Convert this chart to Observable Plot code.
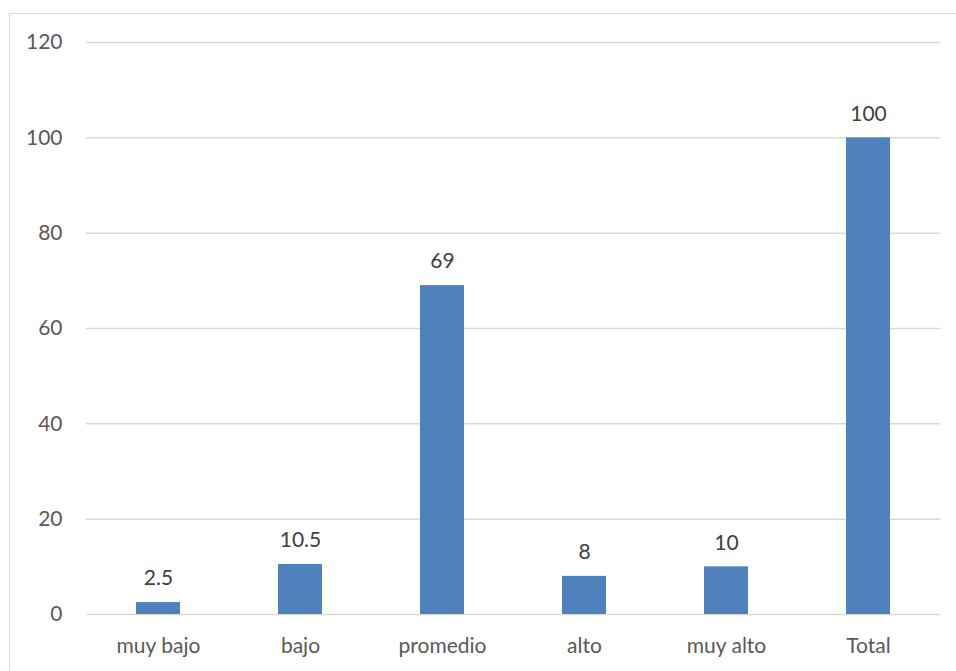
<!DOCTYPE html>
<html>
<head>
<meta charset="utf-8">
<script src="https://cdn.jsdelivr.net/npm/d3@7"></script>
<script src="https://cdn.jsdelivr.net/npm/@observablehq/plot@0.6"></script>
<style>
  html, body { margin: 0; padding: 0; background: #fff; }
  #wrap { position: relative; width: 956px; height: 671px; overflow: hidden; }
  #frame { position: absolute; left: 9px; top: 13px; width: 980px; height: 700px;
           border: 1.5px solid #D9D9D9; box-sizing: border-box; }
  #chart { position: absolute; left: 0; top: 0; }
</style>
</head>
<body>
<div id="wrap"><div id="frame"></div><div id="chart"></div></div>
<script>
const categories = ["muy bajo", "bajo", "promedio", "alto", "muy alto", "Total"];
const values = [2.5, 10.5, 69, 8, 10, 100];
const yTicks = [0, 20, 40, 60, 80, 100, 120];

const data = categories.map((c, i) => ({category: c, value: values[i]}));

const chart = Plot.plot({
  width: 956,
  height: 671,
  marginLeft: 86,
  marginRight: 16,
  marginTop: 42,
  marginBottom: 57,
  style: {fontFamily: "Lato, 'Open Sans', sans-serif", fontSize: "21px", color: "#595959", background: "transparent"},
  x: {domain: categories, paddingInner: 0.69, paddingOuter: 0.345, label: null},
  y: {domain: [0, 120], ticks: yTicks, label: null},
  marks: [
    Plot.gridY(yTicks, {stroke: "#D9D9D9", strokeOpacity: 1, strokeWidth: 1.5}),
    Plot.axisY({ticks: yTicks, tickSize: 0, tickPadding: 24, fontSize: 21, label: null}),
    Plot.axisX({tickSize: 0, tickPadding: 24, fontSize: 21, label: null}),
    Plot.barY(data, {x: "category", y: "value", fill: "#4F81BD"}),
    Plot.text(data, {x: "category", y: "value", text: d => String(d.value), dy: -24, fontSize: 21, fill: "#404040"})
  ]
});
document.getElementById("chart").appendChild(chart);
</script>
</body>
</html>
